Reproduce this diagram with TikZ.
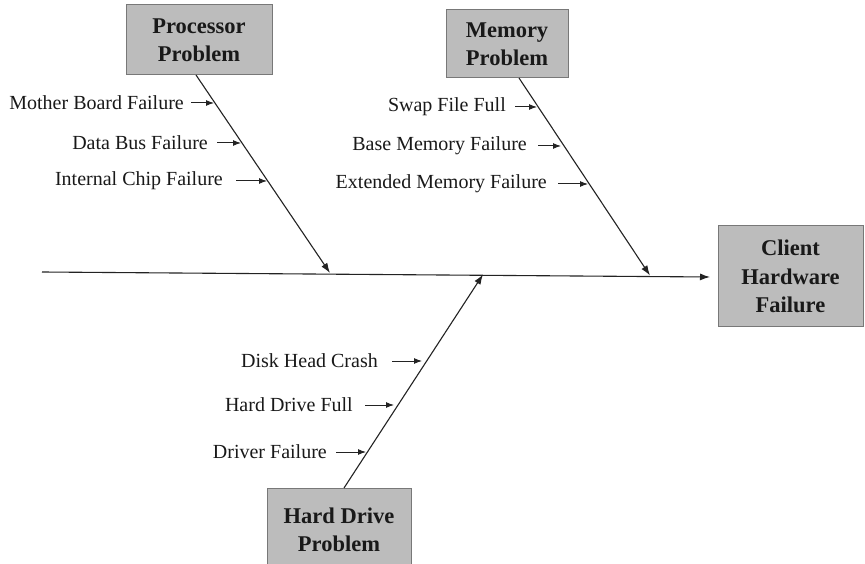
\documentclass[tikz,border=0pt]{standalone}
\usepackage{fontspec}
\setmainfont{Liberation Serif}
\usetikzlibrary{arrows.meta,calc}
\definecolor{boxfill}{RGB}{188,188,188}
\definecolor{boxline}{RGB}{120,120,120}
\definecolor{ink}{RGB}{35,35,35}
\begin{document}
\begin{tikzpicture}[x=1pt,y=1pt,
  probbox/.style={draw=boxline,line width=1pt,fill=boxfill,align=center,inner sep=0pt,
    font=\fontsize{22.5}{28}\selectfont\bfseries,text=black!90},
  cause/.style={anchor=east,inner sep=0pt,font=\fontsize{20}{24}\selectfont,text=black!90},
  bone/.style={draw=ink,line width=1.1pt,-{Latex[length=10pt,width=7pt]}},
  small/.style={draw=ink,line width=1pt,-{Latex[length=8pt,width=6pt]}}]
\useasboundingbox[fill=white] (0,0) rectangle (865,563);
% boxes
\node[probbox,minimum width=146pt,minimum height=70pt] (proc) at (199,523) {Processor\\Problem};
\node[probbox,minimum width=122pt,minimum height=68pt] (mem) at (507,519) {Memory\\Problem};
\node[probbox,minimum width=145pt,minimum height=101pt,font=\fontsize{22.5}{28.5}\selectfont\bfseries] (client) at (790.5,286.5) {Client\\Hardware\\Failure};
\node[probbox,minimum width=144pt,minimum height=84pt] (hd) at (339,33) {Hard Drive\\Problem};
% spine
\coordinate (s0) at (42,291);
\coordinate (s1) at (710,286);
\coordinate (p1) at (330,290);
\coordinate (m1) at (650,287.5);
\coordinate (h1) at (483,288.5);
\coordinate (ptop) at (196,488);
\coordinate (mtop) at (519,485);
\coordinate (hbot) at (344,75);
\draw[bone] (s0) -- (s1);
\draw[bone] (ptop) -- (p1);
\draw[bone] (mtop) -- (m1);
\draw[bone] (hbot) -- (h1);
% processor causes
\node[cause] (c1) at (184,460) {Mother Board Failure};
\node[cause] (c2) at (208,420) {Data Bus Failure};
\node[cause] (c3) at (223,382) {Internal Chip Failure};
\coordinate (b1) at (214,460);
\coordinate (b2) at (241,420);
\coordinate (b3) at (267,382);
\draw[small] ([xshift=7pt]c1.east) -- (b1);
\draw[small] ([xshift=9pt]c2.east) -- (b2);
\draw[small] ([xshift=13pt]c3.east) -- (b3);
% memory causes
\node[cause] (d1) at (506,456) {Swap File Full};
\node[cause] (d2) at (527,417) {Base Memory Failure};
\node[cause] (d3) at (547,379) {Extended Memory Failure};
\coordinate (e1) at (537,456);
\coordinate (e2) at (561,417);
\coordinate (e3) at (588,379);
\draw[small] ([xshift=9pt]d1.east) -- (e1);
\draw[small] ([xshift=11pt]d2.east) -- (e2);
\draw[small] ([xshift=11pt]d3.east) -- (e3);
% hard drive causes
\node[cause] (f1) at (378,202) {Disk Head Crash};
\node[cause] (f2) at (353,158) {Hard Drive Full};
\node[cause] (f3) at (327,111) {Driver Failure};
\coordinate (g1) at (422,202);
\coordinate (g2) at (394,158);
\coordinate (g3) at (366,111);
\draw[small] ([xshift=14pt]f1.east) -- (g1);
\draw[small] ([xshift=12pt]f2.east) -- (g2);
\draw[small] ([xshift=9pt]f3.east) -- (g3);
\end{tikzpicture}
\end{document}
